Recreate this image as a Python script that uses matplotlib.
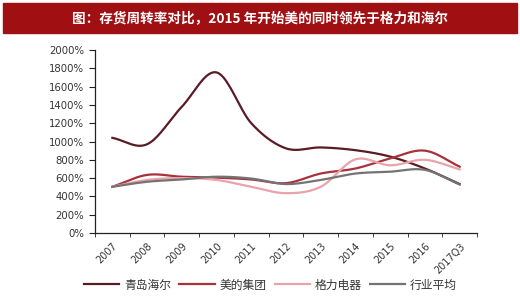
import numpy as np
import matplotlib
matplotlib.use('Agg')
import matplotlib.pyplot as plt
from matplotlib.patches import Rectangle

plt.rcParams['font.family'] = ['Noto Sans CJK SC', 'DejaVu Sans']

years = ['2007', '2008', '2009', '2010', '2011', '2012', '2013',
         '2014', '2015', '2016', '2017Q3']
haier = [1040, 970, 1380, 1755, 1200, 925, 935, 905, 835, 705, 535]
midea = [505, 635, 615, 605, 585, 545, 650, 705, 815, 900, 725]
gree = [505, 580, 600, 580, 505, 435, 505, 805, 740, 800, 695]
avg = [505, 560, 585, 615, 595, 535, 580, 650, 670, 690, 530]
names = ['青岛海尔', '美的集团', '格力电器', '行业平均']
colors = ['#5a1c24', '#a8323c', '#e9a3aa', '#737373']
yticks = list(range(0, 2001, 200))


def smooth(y, n=20):
    # catmull-rom, like the excel smoothed line
    y = np.asarray(y, float)
    p = np.concatenate([[2 * y[0] - y[1]], y, [2 * y[-1] - y[-2]]])
    xs, ys = [], []
    for i in range(len(y) - 1):
        t = np.linspace(0, 1, n, endpoint=False)
        p0, p1, p2, p3 = p[i], p[i + 1], p[i + 2], p[i + 3]
        v = 0.5 * (2 * p1 + (-p0 + p2) * t + (2 * p0 - 5 * p1 + 4 * p2 - p3) * t ** 2
                   + (-p0 + 3 * p1 - 3 * p2 + p3) * t ** 3)
        xs.extend(i + t)
        ys.extend(v)
    xs.append(len(y) - 1)
    ys.append(y[-1])
    return np.array(xs), np.array(ys)


fig = plt.figure(figsize=(5.2, 2.99), dpi=100)
W, H = 520, 299

# title bar
fig.patches.append(Rectangle((3 / W, 1 - 33 / H), 514 / W, 30 / H,
                             transform=fig.transFigure, color='#a00f12', zorder=0))
fig.text(0.5, 1 - 18 / H, '图：存货周转率对比，2015 年开始美的同时领先于格力和海尔',
         color='white', fontsize=9.8, fontweight='bold', ha='center', va='center')

ax = fig.add_axes([95 / W, 1 - 233 / H, 382 / W, 183 / H])
for series, c, lab in zip([haier, midea, gree, avg], colors, names):
    sx, sy = smooth(series)
    ax.plot(sx, sy, color=c, lw=1.6, label=lab)

ax.set_xlim(-0.5, len(years) - 0.5)
ax.set_ylim(0, 2000)
ax.set_yticks(yticks)
ax.set_yticklabels([f'{v}%' for v in yticks], fontsize=7.3, color='#333333',
                   family='DejaVu Sans')
ax.set_xticks(range(len(years)))
ax.set_xticklabels(years, rotation=45, ha='right', rotation_mode='anchor',
                   fontsize=7, color='#333333', family='DejaVu Sans')
ax.set_xticks(np.arange(-0.5, len(years)), minor=True)
ax.tick_params(axis='x', which='major', length=0, pad=6)
ax.tick_params(axis='x', which='minor', length=3, color='#222222')
ax.tick_params(axis='y', length=4, color='#222222', pad=4)
for s in ['top', 'right']:
    ax.spines[s].set_visible(False)
for s in ['left', 'bottom']:
    ax.spines[s].set_color('#222222')
    ax.spines[s].set_linewidth(0.9)

fig.legend(loc='center', bbox_to_anchor=(0.52, 1 - 285 / H), ncol=4, frameon=False,
           fontsize=8.5, handlelength=3.0, columnspacing=0.7, handletextpad=0.4,
           labelcolor='#333333')

fig.savefig('out.png', dpi=100)
